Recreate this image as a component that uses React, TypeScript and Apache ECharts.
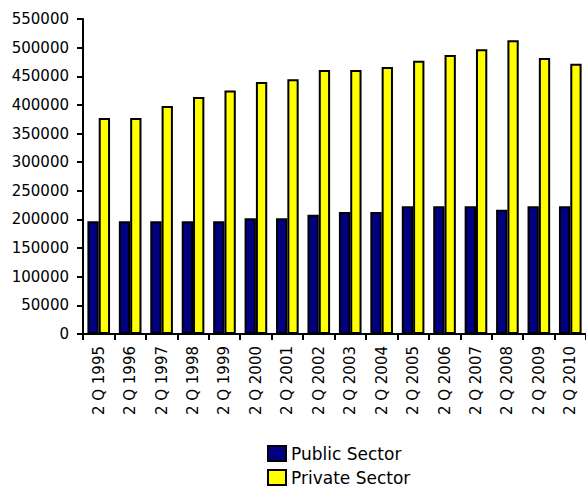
import React, { useEffect, useRef } from "react";
import * as echarts from "echarts";

const categories = [
  "2 Q 1995", "2 Q 1996", "2 Q 1997", "2 Q 1998", "2 Q 1999", "2 Q 2000",
  "2 Q 2001", "2 Q 2002", "2 Q 2003", "2 Q 2004", "2 Q 2005", "2 Q 2006",
  "2 Q 2007", "2 Q 2008", "2 Q 2009", "2 Q 2010",
];
const publicSector = [
  197000, 197000, 197000, 197000, 197000, 202000, 202000, 208000,
  213000, 213000, 223000, 223000, 223000, 217000, 223000, 223000,
];
const privateSector = [
  377000, 377000, 398000, 414000, 425000, 440000, 445000, 461000,
  461000, 466000, 477000, 487000, 497000, 513000, 482000, 472000,
];
const seriesNames = ["Public Sector", "Private Sector"];

const FONT = "DejaVu Sans";

export default function App() {
  const ref = useRef<HTMLDivElement>(null);
  useEffect(() => {
    if (!ref.current) return;
    const chart = echarts.init(ref.current, undefined, { renderer: "svg" });
    const legendBase = {
      orient: "vertical",
      left: 267,
      padding: 0,
      itemWidth: 18,
      itemHeight: 15,
      icon: "rect",
      itemStyle: { borderColor: "#000", borderWidth: 2 },
      textStyle: { fontFamily: FONT, fontSize: 17, color: "#000" },
    };
    chart.setOption({
      animation: false,
      backgroundColor: "#ffffff",
      grid: { left: 83, top: 19, width: 510, height: 315, containLabel: false },
      legend: [
        { ...legendBase, top: 445, data: [seriesNames[0]] },
        { ...legendBase, top: 469, data: [seriesNames[1]] },
      ],
      xAxis: {
        type: "category",
        data: categories,
        axisLine: { lineStyle: { color: "#000", width: 2 } },
        axisTick: { show: true, length: 6, interval: 0, lineStyle: { color: "#000", width: 2 } },
        axisLabel: {
          interval: 0,
          rotate: 90,
          margin: 12,
          fontFamily: FONT,
          fontSize: 15,
          color: "#000",
        },
        splitLine: { show: false },
      },
      yAxis: {
        type: "value",
        min: 0,
        max: 550000,
        interval: 50000,
        axisLine: { show: true, lineStyle: { color: "#000", width: 2 } },
        axisTick: { show: true, length: 6, lineStyle: { color: "#000", width: 2 } },
        axisLabel: {
          margin: 14,
          fontFamily: FONT,
          fontSize: 15,
          color: "#000",
          formatter: (v: number) => String(v),
        },
        splitLine: { show: false },
      },
      series: [
        {
          name: seriesNames[0],
          type: "bar",
          data: publicSector,
          barGap: "0%",
          barCategoryGap: "28%",
          itemStyle: { color: "#000080", borderColor: "#000", borderWidth: 2 },
        },
        {
          name: seriesNames[1],
          type: "bar",
          data: privateSector,
          barGap: "0%",
          barCategoryGap: "28%",
          itemStyle: { color: "#ffff00", borderColor: "#000", borderWidth: 2 },
        },
      ],
    });
    return () => chart.dispose();
  }, []);
  return (
    <div
      ref={ref}
      style={{ position: "fixed", left: 0, top: 0, width: 586, height: 486, background: "#fff" }}
    />
  );
}
